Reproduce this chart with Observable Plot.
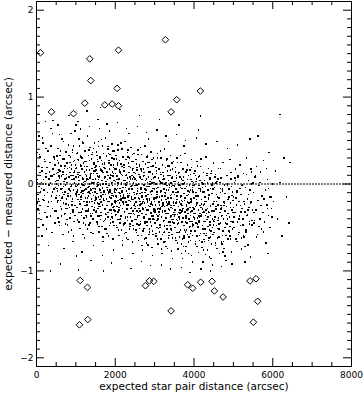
<!DOCTYPE html>
<html>
<head>
<meta charset="utf-8">
<script src="https://cdn.jsdelivr.net/npm/d3@7"></script>
<script src="https://cdn.jsdelivr.net/npm/@observablehq/plot@0.6"></script>
<style>
  html, body { margin: 0; padding: 0; background: #fff; }
  #chart svg { display: block; }
</style>
</head>
<body>
<div id="chart"></div>
<script>
// ---- Data (expected star pair distance in arcsec, residual in arcsec) ----
const xTickValues = [0, 2000, 4000, 6000, 8000];
const yTickValues = [-2, -1, 0, 1, 2];
const xTitle = "expected star pair distance (arcsec)";
const yTitle = "expected \u2212 measured distance (arcsec)";

// outlying pairs (diamonds)
const outliers = [
  [100,1.51],[380,0.83],[940,0.81],[1226,0.93],[1353,1.44],[1378,1.19],[1734,0.91],[1921,0.92],
  [2081,0.90],[2047,1.10],[2081,1.54],[3274,1.66],[3418,0.83],[3561,0.97],[4162,1.07],
  [1108,-1.11],[1294,-1.19],[1091,-1.62],[1302,-1.56],[2766,-1.17],[2868,-1.115],[2977,-1.12],
  [3418,-1.46],[3840,-1.16],[3967,-1.20],[4170,-1.13],[4458,-1.12],[4518,-1.23],[4738,-1.30],
  [5423,-1.115],[5575,-1.09],[5617,-1.35],[5508,-1.59]
];

// star pairs (small dots), grouped by distance range
const pairs0 = [[20,0.05],[35,-0.12],[50,0.21],[60,-0.03],[75,0.34],[90,-0.25],[105,0.1],[115,-0.41],[130,0.02],[145,0.15],[160,-0.18],[170,0.47],[185,-0.07],[200,0.28],[210,-0.33],[225,0.0],[240,0.12],[250,-0.52],[265,0.19],[280,-0.1],[290,0.38],[305,-0.21],[320,0.06],[330,-0.02],[345,0.25],[360,-0.37],[370,0.64],[385,-0.14],[400,0.09],[410,-0.28],[425,0.17],[440,-0.06],[450,0.31],[465,-0.45],[480,0.03],[490,-0.16],[60,0.55],[140,-0.6],[230,0.72],[300,-0.71],[410,0.58],[470,0.22],[95,0.13],[195,-0.19],[355,0.01],[420,0.73],[360,-1.0]];
const pairs500 = [[505,0.12],[512,-0.31],[520,0.04],[528,-0.08],[536,0.27],[545,-0.19],[551,0.41],[560,-0.02],[567,0.16],[575,-0.44],[583,0.07],[590,-0.13],[598,0.33],[606,-0.26],[613,0.0],[622,0.21],[630,-0.37],[637,0.09],[645,-0.05],[652,0.52],[660,-0.15],[668,0.14],[676,-0.58],[684,0.03],[691,-0.22],[699,0.29],[707,-0.09],[715,0.18],[722,-0.34],[730,0.06],[738,-0.01],[745,0.37],[753,-0.28],[761,0.11],[768,-0.17],[776,0.24],[784,-0.47],[791,0.02],[799,-0.11],[807,0.45],[814,-0.24],[822,0.08],[830,-0.06],[837,0.19],[845,-0.39],[853,0.13],[860,-0.14],[868,0.31],[876,-0.03],[883,-0.53],[891,0.22],[899,-0.2],[906,0.05],[914,0.39],[922,-0.3],[929,0.1],[937,-0.07],[945,0.26],[952,-0.43],[960,0.01],[968,0.15],[975,-0.25],[983,0.61],[991,-0.12],[540,0.68],[700,-0.74],[820,0.79],[930,-0.66],[610,-0.92],[880,0.58]];
const pairs1000 = [[1004,0.08],[1010,-0.27],[1017,0.19],[1023,-0.09],[1030,0.35],[1036,-0.41],[1043,-0.01],[1049,0.13],[1056,-0.18],[1062,0.27],[1069,-0.33],[1075,0.04],[1082,-0.12],[1088,0.44],[1095,-0.23],[1101,0.1],[1108,-0.51],[1114,-0.04],[1121,0.22],[1127,-0.15],[1134,0.31],[1140,-0.36],[1147,0.0],[1153,-0.08],[1160,0.17],[1166,-0.29],[1173,0.49],[1179,-0.11],[1186,0.06],[1192,-0.45],[1199,0.24],[1205,-0.02],[1212,-0.2],[1218,0.14],[1225,-0.62],[1231,0.03],[1238,0.38],[1244,-0.16],[1251,-0.06],[1257,0.26],[1264,-0.38],[1270,0.09],[1277,-0.24],[1283,0.2],[1290,-0.1],[1296,0.55],[1303,-0.31],[1309,0.05],[1316,-0.14],[1322,0.33],[1329,-0.47],[1335,-0.03],[1342,0.16],[1348,-0.21],[1355,0.07],[1361,0.42],[1368,-0.34],[1374,0.11],[1381,-0.07],[1387,-0.56],[1394,0.29],[1400,-0.17],[1407,0.01],[1413,0.18],[1420,-0.26],[1426,0.36],[1433,-0.05],[1439,-0.4],[1446,0.12],[1452,-0.13],[1459,0.23],[1465,-0.3],[1472,0.02],[1478,0.47],[1485,-0.19],[1491,-0.09],[1498,0.15],[1050,0.72],[1160,-0.78],[1280,0.84],[1390,-0.88],[1120,0.63],[1450,-0.71],[1340,0.66],[1010,-0.83],[1070,-0.99],[1000,0.68]];
const pairs1500 = [[1503,0.06],[1509,-0.32],[1514,0.21],[1520,-0.11],[1526,0.37],[1531,-0.44],[1537,-0.03],[1542,0.12],[1548,-0.22],[1554,0.28],[1559,-0.37],[1565,0.02],[1570,-0.15],[1576,0.43],[1582,-0.26],[1587,0.08],[1593,-0.55],[1598,-0.06],[1604,0.2],[1610,-0.18],[1615,0.3],[1621,-0.41],[1626,-0.01],[1632,-0.1],[1638,0.16],[1643,-0.33],[1649,0.51],[1654,-0.13],[1660,0.04],[1666,-0.49],[1671,0.23],[1677,-0.05],[1682,-0.24],[1688,0.13],[1694,-0.66],[1699,0.0],[1705,0.35],[1710,-0.19],[1716,-0.08],[1722,0.25],[1727,-0.42],[1733,0.07],[1738,-0.28],[1744,0.18],[1750,-0.12],[1755,0.53],[1761,-0.35],[1766,0.03],[1772,-0.17],[1778,0.32],[1783,-0.52],[1789,-0.04],[1794,0.14],[1800,-0.25],[1806,0.05],[1811,0.4],[1817,-0.38],[1822,0.1],[1828,-0.09],[1834,-0.6],[1839,0.27],[1845,-0.2],[1850,-0.02],[1856,0.17],[1862,-0.3],[1867,0.34],[1873,-0.07],[1878,-0.45],[1884,0.11],[1890,-0.16],[1895,0.22],[1901,-0.34],[1906,0.01],[1912,0.46],[1918,-0.23],[1923,-0.11],[1929,0.14],[1934,-0.39],[1940,0.09],[1946,-0.27],[1951,0.19],[1957,-0.14],[1962,0.29],[1968,-0.48],[1974,0.04],[1979,-0.21],[1985,0.38],[1990,-0.06],[1996,-0.31],[1560,0.74],[1680,-0.82],[1790,0.69],[1900,-0.91],[1620,0.88],[1960,-0.76],[1850,0.61],[1700,-1.0],[1600,0.64]];
const pairs2000 = [[2003,0.03],[2008,-0.36],[2014,0.17],[2019,-0.14],[2025,0.33],[2030,-0.48],[2036,-0.07],[2041,0.09],[2047,-0.26],[2052,0.24],[2058,-0.41],[2063,-0.02],[2069,-0.19],[2074,0.39],[2080,-0.3],[2085,0.05],[2091,-0.59],[2096,-0.1],[2102,0.16],[2107,-0.22],[2113,0.27],[2118,-0.45],[2124,-0.05],[2129,-0.14],[2135,0.12],[2140,-0.37],[2146,0.47],[2151,-0.17],[2157,0.01],[2162,-0.53],[2168,0.2],[2173,-0.09],[2179,-0.28],[2184,0.1],[2190,-0.7],[2195,-0.04],[2201,0.31],[2206,-0.23],[2212,-0.12],[2217,0.22],[2223,-0.46],[2228,0.04],[2234,-0.32],[2239,0.15],[2245,-0.16],[2250,0.49],[2256,-0.39],[2261,0.0],[2267,-0.21],[2272,0.28],[2278,-0.56],[2283,-0.08],[2289,0.11],[2294,-0.29],[2300,0.02],[2305,0.36],[2311,-0.42],[2316,0.07],[2322,-0.13],[2327,-0.64],[2333,0.24],[2338,-0.24],[2344,-0.06],[2349,0.13],[2355,-0.34],[2360,0.3],[2366,-0.11],[2371,-0.49],[2377,0.08],[2382,-0.2],[2388,0.19],[2393,-0.38],[2399,-0.03],[2404,0.42],[2410,-0.27],[2415,-0.15],[2421,0.1],[2426,-0.43],[2432,0.06],[2437,-0.31],[2443,0.16],[2448,-0.18],[2454,0.26],[2459,-0.52],[2465,0.01],[2470,-0.25],[2476,0.35],[2481,-0.1],[2487,-0.35],[2493,0.07],[2060,0.71],[2170,-0.86],[2290,0.64],[2400,-0.97],[2120,0.86],[2450,-0.8],[2350,0.58]];
const pairs2500 = [[2503,-0.02],[2508,-0.41],[2514,0.12],[2519,-0.2],[2525,0.28],[2530,-0.53],[2536,-0.12],[2541,0.04],[2547,-0.31],[2552,0.19],[2558,-0.46],[2563,-0.08],[2569,-0.25],[2574,0.34],[2580,-0.36],[2585,0.0],[2591,-0.65],[2596,-0.16],[2602,0.11],[2607,-0.28],[2613,0.22],[2618,-0.51],[2624,-0.11],[2629,-0.2],[2635,0.07],[2640,-0.43],[2646,0.42],[2651,-0.23],[2657,-0.04],[2662,-0.59],[2668,0.15],[2673,-0.15],[2679,-0.34],[2684,0.05],[2690,-0.76],[2695,-0.1],[2701,0.26],[2706,-0.29],[2712,-0.18],[2717,0.17],[2723,-0.52],[2728,-0.01],[2734,-0.38],[2739,0.1],[2745,-0.22],[2750,0.44],[2756,-0.45],[2761,-0.06],[2767,-0.27],[2772,0.23],[2778,-0.62],[2783,-0.14],[2789,0.06],[2794,-0.35],[2800,-0.03],[2805,0.31],[2811,-0.48],[2816,0.02],[2822,-0.19],[2827,-0.7],[2833,0.19],[2838,-0.3],[2844,-0.12],[2849,0.08],[2855,-0.4],[2860,0.25],[2866,-0.17],[2871,-0.55],[2877,0.03],[2882,-0.26],[2888,0.14],[2893,-0.44],[2899,-0.09],[2904,0.37],[2910,-0.33],[2915,-0.21],[2921,0.05],[2926,-0.49],[2932,0.01],[2937,-0.37],[2943,0.11],[2948,-0.24],[2954,0.21],[2959,-0.58],[2965,-0.05],[2970,-0.31],[2976,0.3],[2981,-0.16],[2987,-0.41],[2993,0.02],[2560,0.66],[2670,-0.89],[2790,0.59],[2900,-0.94],[2620,0.79],[2950,-0.82],[2850,0.52]];
const pairs3000 = [[3003,-0.06],[3008,-0.45],[3014,0.08],[3019,-0.24],[3025,0.24],[3030,-0.57],[3036,-0.16],[3041,0.0],[3047,-0.35],[3052,0.15],[3058,-0.5],[3063,-0.12],[3069,-0.29],[3074,0.3],[3080,-0.4],[3085,-0.04],[3091,-0.69],[3096,-0.2],[3102,0.07],[3107,-0.32],[3113,0.18],[3118,-0.55],[3124,-0.15],[3129,-0.24],[3135,0.03],[3140,-0.47],[3146,0.38],[3151,-0.27],[3157,-0.08],[3162,-0.63],[3168,0.11],[3173,-0.19],[3179,-0.38],[3184,0.01],[3190,-0.8],[3195,-0.14],[3201,0.22],[3206,-0.33],[3212,-0.22],[3217,0.13],[3223,-0.56],[3228,-0.05],[3234,-0.42],[3239,0.06],[3245,-0.26],[3250,0.4],[3256,-0.49],[3261,-0.1],[3267,-0.31],[3272,0.19],[3278,-0.66],[3283,-0.18],[3289,0.02],[3294,-0.39],[3300,-0.07],[3305,0.27],[3311,-0.52],[3316,-0.02],[3322,-0.23],[3327,-0.74],[3333,0.15],[3338,-0.34],[3344,-0.16],[3349,0.04],[3355,-0.44],[3360,0.21],[3366,-0.21],[3371,-0.59],[3377,-0.01],[3382,-0.3],[3388,0.1],[3393,-0.48],[3399,-0.13],[3404,0.33],[3410,-0.37],[3415,-0.25],[3421,0.01],[3426,-0.53],[3432,-0.03],[3437,-0.41],[3443,0.07],[3448,-0.28],[3454,0.17],[3459,-0.62],[3465,-0.09],[3470,-0.35],[3476,0.26],[3481,-0.2],[3487,-0.45],[3493,-0.02],[3060,0.62],[3170,-0.93],[3290,0.55],[3400,-0.98],[3120,0.74],[3450,-0.86],[3350,0.49]];
const pairs3500 = [[3503,-0.12],[3509,-0.5],[3515,0.03],[3521,-0.3],[3527,0.19],[3533,-0.62],[3539,-0.22],[3545,-0.06],[3551,-0.41],[3557,0.1],[3563,-0.56],[3569,-0.18],[3575,-0.35],[3581,0.25],[3587,-0.46],[3593,-0.1],[3599,-0.75],[3605,-0.26],[3611,0.02],[3617,-0.38],[3623,0.13],[3629,-0.61],[3635,-0.21],[3641,-0.3],[3647,-0.02],[3653,-0.53],[3659,0.33],[3665,-0.33],[3671,-0.14],[3677,-0.69],[3683,0.06],[3689,-0.25],[3695,-0.44],[3701,-0.05],[3707,-0.86],[3713,-0.2],[3719,0.17],[3725,-0.39],[3731,-0.28],[3737,0.08],[3743,-0.62],[3749,-0.11],[3755,-0.48],[3761,0.01],[3767,-0.32],[3773,0.35],[3779,-0.55],[3785,-0.16],[3791,-0.37],[3797,0.14],[3803,-0.72],[3809,-0.24],[3815,-0.03],[3821,-0.45],[3827,-0.13],[3833,0.22],[3839,-0.58],[3845,-0.08],[3851,-0.29],[3857,-0.8],[3863,0.1],[3869,-0.4],[3875,-0.22],[3881,-0.01],[3887,-0.5],[3893,0.16],[3899,-0.27],[3905,-0.65],[3911,-0.07],[3917,-0.36],[3923,0.05],[3929,-0.54],[3935,-0.19],[3941,0.28],[3947,-0.43],[3953,-0.31],[3959,-0.04],[3965,-0.59],[3971,-0.09],[3977,-0.47],[3983,0.02],[3989,-0.34],[3995,0.12],[3560,0.57],[3680,-0.96],[3790,0.5],[3900,-1.02],[3620,0.68],[3960,-0.9],[3740,0.44]];
const pairs4000 = [[4004,-0.16],[4011,-0.54],[4017,-0.01],[4024,-0.34],[4031,0.15],[4037,-0.66],[4044,-0.26],[4050,-0.1],[4057,-0.45],[4064,0.06],[4070,-0.6],[4077,-0.22],[4084,-0.39],[4090,0.21],[4097,-0.5],[4104,-0.14],[4110,-0.79],[4117,-0.3],[4124,-0.02],[4130,-0.42],[4137,0.09],[4144,-0.65],[4150,-0.25],[4157,-0.34],[4164,-0.06],[4170,-0.57],[4177,0.29],[4184,-0.37],[4190,-0.18],[4197,-0.73],[4204,0.02],[4210,-0.29],[4217,-0.48],[4224,-0.09],[4230,-0.9],[4237,-0.24],[4244,0.13],[4250,-0.43],[4257,-0.32],[4264,0.04],[4270,-0.66],[4277,-0.15],[4284,-0.52],[4290,-0.03],[4297,-0.36],[4304,0.31],[4310,-0.59],[4317,-0.2],[4324,-0.41],[4330,0.1],[4337,-0.76],[4344,-0.28],[4350,-0.07],[4357,-0.49],[4364,-0.17],[4370,0.18],[4377,-0.62],[4384,-0.12],[4390,-0.33],[4397,-0.84],[4404,0.06],[4410,-0.44],[4417,-0.26],[4424,-0.05],[4430,-0.54],[4437,0.12],[4444,-0.31],[4450,-0.69],[4457,-0.11],[4464,-0.4],[4470,0.01],[4477,-0.58],[4484,-0.23],[4490,0.24],[4497,-0.47],[4060,0.53],[4180,-0.98],[4300,0.46],[4420,-1.0],[4120,0.62],[4470,-0.93],[4160,0.78]];
const pairs4500 = [[4505,-0.2],[4514,-0.56],[4523,-0.04],[4532,-0.38],[4541,0.11],[4550,-0.68],[4559,-0.29],[4568,-0.12],[4577,-0.48],[4586,0.03],[4595,-0.62],[4604,-0.24],[4613,-0.42],[4622,0.18],[4631,-0.52],[4640,-0.16],[4649,-0.8],[4658,-0.33],[4667,-0.05],[4676,-0.45],[4685,0.07],[4694,-0.67],[4703,-0.27],[4712,-0.36],[4721,-0.08],[4730,-0.59],[4739,0.25],[4748,-0.4],[4757,-0.21],[4766,-0.74],[4775,-0.01],[4784,-0.31],[4793,-0.5],[4802,-0.11],[4811,-0.88],[4820,-0.26],[4829,0.1],[4838,-0.46],[4847,-0.34],[4856,0.0],[4865,-0.63],[4874,-0.17],[4883,-0.54],[4892,-0.06],[4901,-0.38],[4910,0.28],[4919,-0.6],[4928,-0.22],[4937,-0.43],[4946,0.06],[4955,-0.78],[4964,-0.3],[4973,-0.09],[4982,-0.51],[4991,-0.19],[4580,0.49],[4700,-0.95],[4850,0.41],[4960,-0.92]];
const pairs5000 = [[5006,-0.15],[5019,-0.5],[5031,0.02],[5044,-0.33],[5056,0.17],[5069,-0.63],[5081,-0.24],[5094,-0.08],[5106,-0.44],[5119,0.08],[5131,-0.58],[5144,-0.2],[5156,-0.37],[5169,0.22],[5181,-0.48],[5194,-0.12],[5206,-0.75],[5219,-0.28],[5231,-0.01],[5244,-0.4],[5256,0.12],[5269,-0.61],[5281,-0.23],[5294,-0.32],[5306,-0.04],[5319,-0.55],[5331,0.3],[5344,-0.36],[5356,-0.17],[5369,-0.7],[5381,0.04],[5394,-0.27],[5406,-0.46],[5419,-0.07],[5431,-0.84],[5444,-0.21],[5456,0.14],[5469,-0.42],[5481,-0.3],[5494,0.01],[5100,0.45],[5300,-0.9],[5420,0.52]];
const pairs5500 = [[5510,-0.1],[5530,-0.45],[5550,0.08],[5570,-0.3],[5590,0.2],[5610,-0.58],[5630,-0.19],[5650,-0.02],[5670,-0.4],[5690,0.14],[5710,-0.52],[5730,-0.14],[5750,-0.33],[5770,0.27],[5790,-0.44],[5810,-0.07],[5830,-0.68],[5850,-0.24],[5870,0.05],[5890,-0.36],[5910,0.36],[5930,-0.5],[5950,-0.15],[5970,-0.28],[5990,0.0],[5620,0.55],[5880,-0.8]];
const pairs6000 = [[6020,-0.2],[6070,0.15],[6120,-0.4],[6180,0.02],[6230,-0.6],[6290,0.3],[6350,-0.15],[6410,-0.45],[6440,0.25],[6180,0.8]];

// more star pairs in the dense core
const core0 = [[12,-0.22],[247,0.08],[88,0.31],[403,-0.09],[161,-0.47],[331,0.14],[29,0.02],[476,-0.31],[219,0.26],[122,-0.05],[368,0.44],[57,-0.17],[291,-0.26],[443,0.11],[178,0.05],[8,0.36],[262,-0.38],[394,-0.56],[139,0.19],[317,-0.01],[71,-0.34],[455,0.29],[203,-0.13],[350,0.09],[104,-0.09],[488,-0.04],[236,0.41],[44,-0.29],[379,-0.2],[151,0.53]];
const core500 = [[517,-0.05],[893,0.17],[641,-0.29],[758,0.02],[562,0.24],[981,-0.36],[703,-0.12],[826,0.33],[588,-0.48],[947,0.06],[671,0.11],[532,-0.21],[864,-0.08],[779,-0.41],[615,0.38],[918,-0.17],[729,0.21],[504,0.0],[843,-0.27],[690,-0.03],[966,0.27],[575,0.09],[808,-0.55],[651,-0.16],[935,0.44],[744,-0.23],[523,0.32],[885,-0.01],[712,-0.35],[599,0.15],[997,-0.11],[766,0.07],[626,-0.06],[852,0.25],[541,-0.39],[908,-0.24],[681,0.49],[797,-0.14],[559,0.04],[956,0.13],[735,-0.46],[604,-0.19],[874,0.1],[664,0.29],[989,-0.02],[511,-0.13],[786,0.18],[925,-0.32],[697,0.03],[834,-0.07],[581,0.57],[943,-0.6],[720,-0.09],[634,0.2],[860,-0.34],[548,0.13],[772,-0.28],[915,0.36],[657,-0.1],[993,0.22]];
const core1000 = [[1013,-0.14],[1388,0.12],[1142,-0.32],[1266,0.04],[1059,0.28],[1471,-0.22],[1197,-0.08],[1333,0.39],[1085,-0.44],[1429,0.01],[1168,0.17],[1027,-0.27],[1356,-0.11],[1254,-0.36],[1116,0.33],[1410,-0.2],[1222,0.2],[1002,-0.03],[1317,-0.29],[1181,-0.01],[1457,0.24],[1072,0.08],[1294,-0.52],[1136,-0.18],[1445,0.41],[1237,-0.25],[1040,0.36],[1372,-0.06],[1209,-0.39],[1097,0.13],[1494,-0.15],[1281,0.06],[1125,-0.1],[1347,0.27],[1046,-0.42],[1398,-0.26],[1175,0.47],[1301,-0.16],[1064,0.0],[1463,0.15],[1243,-0.47],[1110,-0.23],[1366,0.09],[1156,0.3],[1487,-0.05],[1019,-0.12],[1276,0.16],[1418,-0.34],[1190,0.02],[1327,-0.09],[1079,0.52],[1440,-0.57],[1216,-0.07],[1131,0.21],[1379,-0.37],[1054,0.11],[1260,-0.31],[1406,0.34],[1149,-0.13],[1482,0.19],[1093,-0.2],[1311,-0.04],[1230,0.26],[1036,-0.07],[1423,-0.1],[1185,-0.58],[1341,0.0],[1103,-0.33],[1468,-0.27],[1248,0.11],[1006,0.18],[1362,-0.45],[1163,0.07],[1435,0.05],[1288,-0.21]];
const core1500 = [[1511,-0.18],[1886,0.1],[1640,-0.36],[1764,0.0],[1557,0.26],[1971,-0.26],[1695,-0.12],[1831,0.35],[1583,-0.49],[1927,-0.02],[1666,0.15],[1525,-0.31],[1854,-0.15],[1752,-0.4],[1614,0.31],[1908,-0.24],[1720,0.19],[1500,-0.06],[1815,-0.33],[1679,-0.04],[1955,0.22],[1570,0.05],[1792,-0.57],[1634,-0.21],[1943,0.38],[1735,-0.29],[1538,0.33],[1870,-0.09],[1707,-0.43],[1595,0.1],[1992,-0.19],[1779,0.03],[1623,-0.14],[1845,0.24],[1544,-0.46],[1896,-0.3],[1673,0.44],[1799,-0.2],[1562,-0.01],[1961,0.12],[1741,-0.52],[1608,-0.26],[1864,0.07],[1653,0.27],[1985,-0.08],[1517,-0.16],[1774,0.14],[1921,-0.38],[1688,0.0],[1825,-0.11],[1577,0.49],[1938,-0.63],[1713,-0.1],[1629,0.18],[1876,-0.41],[1550,0.09],[1758,-0.34],[1913,0.3],[1647,-0.15],[1980,0.17],[1591,-0.23],[1809,-0.07],[1728,0.23],[1531,-0.11],[1917,-0.13],[1683,-0.61],[1839,-0.02],[1601,-0.37],[1966,-0.3],[1746,0.08],[1506,0.16],[1860,-0.48],[1661,0.04],[1933,0.02],[1786,-0.25],[1700,-0.17],[1567,-0.28],[1949,-0.44],[1820,0.43],[1618,-0.07]];
const core2000 = [[2009,-0.22],[2384,0.06],[2138,-0.4],[2262,-0.04],[2055,0.22],[2469,-0.31],[2193,-0.16],[2329,0.31],[2081,-0.53],[2425,-0.06],[2164,0.11],[2023,-0.35],[2352,-0.19],[2250,-0.45],[2112,0.27],[2406,-0.28],[2218,0.15],[2000,-0.1],[2313,-0.38],[2177,-0.08],[2453,0.18],[2068,0.01],[2290,-0.62],[2132,-0.25],[2441,0.34],[2233,-0.33],[2036,0.29],[2368,-0.13],[2205,-0.48],[2093,0.06],[2490,-0.23],[2277,-0.01],[2121,-0.18],[2343,0.2],[2042,-0.5],[2394,-0.34],[2171,0.4],[2297,-0.24],[2060,-0.05],[2459,0.08],[2239,-0.57],[2106,-0.3],[2362,0.03],[2151,0.23],[2483,-0.12],[2015,-0.2],[2272,0.1],[2419,-0.42],[2186,-0.04],[2323,-0.15],[2075,0.45],[2436,-0.67],[2211,-0.14],[2127,0.14],[2374,-0.46],[2048,0.05],[2256,-0.38],[2411,0.26],[2145,-0.19],[2478,0.13],[2089,-0.27],[2307,-0.11],[2226,0.19],[2029,-0.15],[2415,-0.17],[2181,-0.65],[2337,-0.06],[2099,-0.41],[2464,-0.34],[2244,0.04],[2004,0.12],[2358,-0.52],[2159,0.0],[2431,-0.02],[2284,-0.29],[2198,-0.21],[2065,-0.32],[2447,-0.48],[2318,0.39],[2116,-0.11]];
const core2500 = [[2507,-0.28],[2882,0.0],[2636,-0.46],[2760,-0.1],[2553,0.16],[2967,-0.37],[2691,-0.22],[2827,0.25],[2579,-0.59],[2923,-0.12],[2662,0.05],[2521,-0.41],[2850,-0.25],[2748,-0.51],[2610,0.21],[2904,-0.34],[2716,0.09],[2498,-0.16],[2811,-0.44],[2675,-0.14],[2951,0.12],[2566,-0.05],[2788,-0.68],[2630,-0.31],[2939,0.28],[2731,-0.39],[2534,0.23],[2866,-0.19],[2703,-0.54],[2591,0.0],[2988,-0.29],[2775,-0.07],[2619,-0.24],[2841,0.14],[2540,-0.56],[2892,-0.4],[2669,0.34],[2795,-0.3],[2558,-0.11],[2957,0.02],[2737,-0.63],[2604,-0.36],[2860,-0.03],[2649,0.17],[2981,-0.18],[2513,-0.26],[2770,0.04],[2917,-0.48],[2684,-0.1],[2821,-0.21],[2573,0.39],[2934,-0.73],[2709,-0.2],[2625,0.08],[2872,-0.52],[2546,-0.01],[2754,-0.44],[2909,0.2],[2643,-0.25],[2976,0.07],[2587,-0.33],[2805,-0.17],[2724,0.13],[2527,-0.21],[2913,-0.23],[2679,-0.71],[2835,-0.12],[2597,-0.47],[2962,-0.4],[2742,-0.02],[2502,0.06],[2856,-0.58],[2657,-0.06],[2929,-0.08],[2782,-0.35],[2696,-0.27],[2563,-0.38],[2945,-0.54],[2816,0.33],[2614,-0.17]];
const core3000 = [[3005,-0.32],[3380,-0.04],[3134,-0.5],[3258,-0.14],[3051,0.12],[3465,-0.41],[3189,-0.26],[3325,0.21],[3077,-0.63],[3421,-0.16],[3160,0.01],[3019,-0.45],[3348,-0.29],[3246,-0.55],[3108,0.17],[3402,-0.38],[3214,0.05],[2996,-0.2],[3309,-0.48],[3173,-0.18],[3449,0.08],[3064,-0.09],[3286,-0.72],[3128,-0.35],[3437,0.24],[3229,-0.43],[3032,0.19],[3364,-0.23],[3201,-0.58],[3089,-0.04],[3486,-0.33],[3273,-0.11],[3117,-0.28],[3339,0.1],[3038,-0.6],[3390,-0.44],[3167,0.3],[3293,-0.34],[3056,-0.15],[3455,-0.02],[3235,-0.67],[3102,-0.4],[3358,-0.07],[3147,0.13],[3479,-0.22],[3011,-0.3],[3268,0.0],[3415,-0.52],[3182,-0.14],[3319,-0.25],[3071,0.35],[3432,-0.77],[3207,-0.24],[3123,0.04],[3370,-0.56],[3044,-0.05],[3252,-0.48],[3407,0.16],[3141,-0.29],[3474,0.03],[3085,-0.37],[3303,-0.21],[3222,0.09],[3025,-0.25],[3411,-0.27],[3177,-0.75],[3333,-0.16],[3095,-0.51],[3460,-0.44],[3240,-0.06],[3000,0.02],[3354,-0.62],[3155,-0.1],[3427,-0.12],[3280,-0.39],[3194,-0.31],[3061,-0.42],[3443,-0.58],[3314,0.29],[3112,-0.21]];
const core3500 = [[3507,-0.37],[3882,-0.09],[3636,-0.55],[3760,-0.19],[3553,0.07],[3967,-0.46],[3691,-0.31],[3827,0.16],[3579,-0.68],[3923,-0.21],[3662,-0.04],[3521,-0.5],[3850,-0.34],[3748,-0.6],[3610,0.12],[3904,-0.43],[3716,0.0],[3498,-0.25],[3811,-0.53],[3675,-0.23],[3951,0.03],[3566,-0.14],[3788,-0.77],[3630,-0.4],[3939,0.19],[3731,-0.48],[3534,0.14],[3866,-0.28],[3703,-0.63],[3591,-0.09],[3988,-0.38],[3775,-0.16],[3619,-0.33],[3841,0.05],[3540,-0.65],[3892,-0.49],[3669,0.25],[3795,-0.39],[3558,-0.2],[3957,-0.07],[3737,-0.72],[3604,-0.45],[3860,-0.12],[3649,0.08],[3981,-0.27],[3513,-0.35],[3770,-0.05],[3917,-0.57],[3684,-0.19],[3821,-0.3],[3573,0.3],[3934,-0.82],[3709,-0.29],[3625,-0.01],[3872,-0.61],[3546,-0.1],[3754,-0.53],[3909,0.11],[3643,-0.34],[3976,-0.02],[3587,-0.42],[3805,-0.26],[3724,0.04],[3527,-0.3],[3913,-0.32],[3679,-0.8],[3835,-0.21],[3597,-0.56],[3962,-0.49],[3742,-0.11],[3502,-0.03],[3856,-0.67],[3657,-0.15],[3929,-0.17],[3782,-0.44]];
const core4000 = [[4009,-0.41],[4384,-0.13],[4138,-0.59],[4262,-0.23],[4055,0.03],[4469,-0.5],[4193,-0.35],[4329,0.12],[4081,-0.72],[4425,-0.25],[4164,-0.08],[4023,-0.54],[4352,-0.38],[4250,-0.64],[4112,0.08],[4406,-0.47],[4218,-0.04],[4000,-0.29],[4313,-0.57],[4177,-0.27],[4453,-0.01],[4068,-0.18],[4290,-0.81],[4132,-0.44],[4441,0.15],[4233,-0.52],[4036,0.1],[4368,-0.32],[4205,-0.67],[4093,-0.13],[4490,-0.42],[4277,-0.2],[4121,-0.37],[4343,0.01],[4042,-0.69],[4394,-0.53],[4171,0.2],[4297,-0.43],[4060,-0.24],[4459,-0.11],[4239,-0.76],[4106,-0.49],[4362,-0.16],[4151,0.04],[4483,-0.31],[4015,-0.39],[4272,-0.09],[4419,-0.61],[4186,-0.23],[4323,-0.34],[4075,0.26],[4436,-0.86],[4211,-0.33],[4127,-0.05],[4374,-0.65],[4048,-0.14],[4256,-0.57],[4411,0.07],[4145,-0.38],[4478,-0.06],[4089,-0.46],[4307,-0.3],[4226,0.0],[4029,-0.34],[4415,-0.36]];
const core4500 = [[4512,-0.43],[4887,-0.15],[4641,-0.61],[4765,-0.25],[4558,0.01],[4972,-0.52],[4696,-0.37],[4832,0.1],[4584,-0.74],[4928,-0.27],[4667,-0.1],[4526,-0.56],[4855,-0.4],[4753,-0.66],[4615,0.06],[4909,-0.49],[4721,-0.06],[4503,-0.31],[4816,-0.59],[4680,-0.29],[4956,-0.03],[4571,-0.2],[4793,-0.83],[4635,-0.46],[4944,0.13],[4736,-0.54],[4539,0.08],[4871,-0.34],[4708,-0.69],[4596,-0.15],[4993,-0.44],[4780,-0.22],[4624,-0.39],[4846,-0.01],[4545,-0.71],[4897,-0.55],[4674,0.18],[4800,-0.45],[4563,-0.26],[4962,-0.13],[4742,-0.78],[4609,-0.51],[4865,-0.18],[4654,0.02],[4986,-0.33],[4518,-0.41],[4775,-0.11],[4922,-0.63],[4689,-0.25],[4826,-0.36]];
const core5000 = [[5014,-0.38],[5389,-0.12],[5143,-0.56],[5267,-0.2],[5060,0.04],[5474,-0.47],[5198,-0.32],[5334,0.11],[5086,-0.66],[5430,-0.22],[5169,-0.05],[5028,-0.5],[5357,-0.35],[5255,-0.6],[5117,0.09],[5411,-0.43],[5223,-0.02],[5005,-0.27],[5318,-0.53],[5182,-0.25],[5458,0.0],[5073,-0.16],[5295,-0.72],[5137,-0.4],[5446,0.17],[5238,-0.47],[5041,0.07],[5373,-0.3],[5210,-0.62],[5098,-0.1]];
const core5500 = [[5519,-0.33],[5894,-0.05],[5648,-0.49],[5772,-0.17],[5565,0.1],[5979,-0.38],[5703,-0.25],[5839,0.18],[5591,-0.61],[5935,-0.15],[5674,0.02],[5533,-0.42],[5862,-0.28],[5760,-0.55]];

const pairs = [].concat(pairs0, pairs500, pairs1000, pairs1500, pairs2000, pairs2500,
  pairs3000, pairs3500, pairs4000, pairs4500, pairs5000, pairs5500, pairs6000,
  core0, core500, core1000, core1500, core2000, core2500, core3000, core3500,
  core4000, core4500, core5000, core5500);

// ---- Layout ----
const W = 364, H = 397;
const mL = 36, mR = 13, mT = 1, mB = 31;
const innerW = W - mL - mR, innerH = H - mT - mB;
const xMinor = d3.range(500, 8000, 500).filter(v => v % 2000 !== 0);
const yMinor = d3.range(-20, 21).filter(v => v % 10 !== 0).map(v => v / 10);
const font = "DejaVu Sans, sans-serif";

const chart = Plot.plot({
  width: W, height: H,
  marginLeft: mL, marginRight: mR, marginTop: mT, marginBottom: mB,
  style: {fontFamily: font, background: "#fff", color: "#000"},
  x: {domain: [0, 8000], axis: null},
  y: {domain: [-2.1, 2.1], axis: null},
  marks: [
    Plot.dot(pairs, {x: d => d[0], y: d => d[1], r: 0.85, symbol: "square", fill: "#000", stroke: null, shapeRendering: "crispEdges"}),
    Plot.dot(outliers, {x: d => d[0], y: d => d[1], r: 3, symbol: "diamond2", stroke: "#000", strokeWidth: 1, fill: "none"}),
    Plot.ruleY([0], {stroke: "#000", strokeWidth: 1, strokeDasharray: "2,1"}),
    // ticks inside on all four sides
    Plot.tickX(xTickValues, {x: d => d, insetTop: innerH - 8, stroke: "#000"}),
    Plot.tickX(xTickValues, {x: d => d, insetBottom: innerH - 8, stroke: "#000"}),
    Plot.tickX(xMinor, {x: d => d, insetTop: innerH - 4, stroke: "#000"}),
    Plot.tickX(xMinor, {x: d => d, insetBottom: innerH - 4, stroke: "#000"}),
    Plot.tickY(yTickValues, {y: d => d, insetRight: innerW - 8, stroke: "#000"}),
    Plot.tickY(yTickValues, {y: d => d, insetLeft: innerW - 8, stroke: "#000"}),
    Plot.tickY(yMinor, {y: d => d, insetRight: innerW - 4, stroke: "#000"}),
    Plot.tickY(yMinor, {y: d => d, insetLeft: innerW - 4, stroke: "#000"}),
    Plot.frame({stroke: "#000"}),
    Plot.axisX(xTickValues, {tickSize: 0, tickPadding: 5, tickFormat: d3.format("d"), fontSize: 9}),
    Plot.axisY(yTickValues, {tickSize: 0, tickPadding: 3, tickFormat: d3.format("d"), fontSize: 9}),
    Plot.text([xTitle], {frameAnchor: "bottom", text: d => d, dy: 23.5, lineAnchor: "bottom", textAnchor: "middle", fontSize: 10.5}),
    Plot.text([yTitle], {frameAnchor: "left", text: d => d, dx: -25, rotate: -90, lineAnchor: "bottom", textAnchor: "middle", fontSize: 10.7})
  ]
});
document.getElementById("chart").appendChild(chart);
</script>
</body>
</html>
